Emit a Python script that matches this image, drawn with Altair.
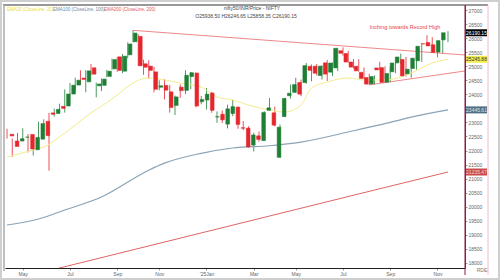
import json
import altair as alt
import pandas as pd

# ---------------- data (weekly candles, Apr-2024 .. Nov-2025) ----------------
weeks = list(range(85))
opens = [22579, 22339, 22336, 22475, 22570, 22027, 22404, 23038, 23338, 23319,
         23570, 23584, 24010, 24329, 24577, 24445, 24943, 24303, 24320, 24637,
         24906, 25333, 24823, 25406, 25872, 26061, 25085, 25002, 24798, 24252,
         24315, 24087, 23606, 24254, 24140, 24633, 24753, 23738, 23796, 24045,
         23195, 23290, 22940, 23319, 23543, 22809, 22796, 22194, 22522, 22353,
         23433, 23341, 21758, 23207, 23949, 24070, 24420, 24420, 24996, 25001,
         24669, 25120, 24788, 24939, 25551, 25450, 25149, 24999, 24782, 24596,
         24372, 24938, 24949, 24432, 24802, 25119, 25239, 24729, 24919, 25192,
         25800, 25843, 25762, 25503, 25938]
highs = [22775, 22427, 22625, 22794, 22588, 22502, 23026, 23111, 23338, 23490,
         23667, 24174, 24401, 24592, 24854, 24861, 25078, 24419, 24563, 24867,
         25269, 25333, 25433, 25849, 26277, 26134, 25234, 25212, 24978, 24498,
         24537, 24336, 23956, 24354, 24857, 24792, 24781, 23939, 24226, 24089,
         23391, 23426, 23633, 23807, 23568, 23049, 22857, 22633, 22676, 23403,
         23869, 23565, 22923, 23872, 24347, 24590, 24526, 25116, 25063, 25079,
         25029, 25223, 25136, 25654, 25669, 25548, 25255, 25247, 24956, 24734,
         24674, 25154, 25000, 24980, 25139, 25448, 25331, 24904, 25330, 25781,
         26104, 26033, 25803, 26010, 26247]
lows = [22427, 21777, 22306, 22348, 21932, 21821, 22377, 22418, 21281, 23207,
        23350, 23350, 23992, 24141, 24362, 24074, 24686, 23893, 24116, 24607,
        24874, 24801, 24753, 25286, 25847, 25014, 24695, 24567, 24073, 24140,
        23816, 23350, 23263, 23873, 24008, 24180, 23537, 23647, 23460, 23344,
        22987, 22981, 22787, 23222, 22774, 22725, 22105, 21965, 22314, 22353,
        23412, 22858, 21744, 23207, 23847, 24055, 23936, 24378, 24462, 24670,
        24527, 24473, 24647, 24824, 25378, 25129, 24918, 24807, 24535, 24337,
        24345, 24859, 24404, 24432, 24751, 25077, 24629, 24588, 24880, 25152,
        25718, 25718, 25318, 25449, 25858]
closes = [22519, 22147, 22420, 22476, 22055, 22466, 22957, 22531, 23290, 23465,
          23501, 24010, 24324, 24502, 24531, 24834, 24718, 24367, 24541, 24823,
          25236, 24852, 25356, 25791, 26179, 25015, 24964, 24854, 24181, 24304,
          24148, 23532, 23907, 24131, 24677, 24768, 23587, 23813, 24004, 23432,
          23203, 23092, 23482, 23560, 22930, 22796, 22125, 22553, 22397, 23350,
          23519, 22904, 22829, 23852, 24039, 24347, 24008, 25020, 24853, 24751,
          25003, 24719, 25112, 25637, 25461, 25150, 24968, 24837, 24565, 24363,
          24631, 24870, 24427, 24741, 25114, 25327, 24655, 24894, 25285, 25710,
          25795, 25722, 25492, 25910, 26190.15]

# moving averages (week index, value)
ema20_i = [0, 5, 7, 11, 16, 20, 21, 24, 26, 27, 30, 34, 37, 40, 43, 46, 50, 53,
           56, 58, 61, 65, 68, 72, 77, 81, 84]
ema20_v = [21769, 22018, 22125, 22623, 23335, 23833, 23975, 24402, 24560, 24580,
           24509, 24367, 24260, 23904, 23797, 23619, 23441, 23370, 23619, 24224,
           24438, 24580, 24509, 24509, 24758, 25114, 25245.88]
ema100_i = [0, 6, 11, 18, 27, 30, 37, 43, 50, 56, 65, 71, 77, 84]
ema100_v = [19349, 19562, 19883, 20345, 21300, 21550, 21900, 22090, 22170, 22300,
            22660, 22910, 23190, 23445.61]
ema200_i = [0, 10, 20, 30, 40, 50, 60, 70, 84]
ema200_v = [17356, 17819, 18281, 18744, 19206, 19669, 20132, 20594, 21235.47]

# trendlines
trend_id = ["upper", "upper", "lower", "lower"]
trend_i = [24, 87.2, 69, 87.2]
trend_v = [26277, 25400, 24337, 24830]

# axis labels
tick_idx = [3, 12, 21, 29, 38, 47, 55, 64, 73, 82]
tick_lab = ["May", "Jul", "Sep", "Nov", "'25Jan", "Mar", "May", "Jul", "Sep", "Nov"]
y_ticks = list(range(18000, 27001, 500))

# right-axis value boxes
box_series = ["price", "ema20", "ema100", "ema200"]
box_vals = [26190.15, 25245.88, 23445.61, 21235.47]
box_text = ["26190.15", "25245.88", "23445.61", "21235.47"]

legend_text = ["EMA20 (CloseLine, 20)", "EMA100 (CloseLine, 100)", "EMA200 (CloseLine, 200)"]
title_lines = ["nifty50/INR/Price - NIFTY", "O25938.50 H26246.65 L25858.35 C26190.15"]
note_text = ["Inching towards Record High"]
note_i = [75.8]
note_v = [26395]
corner_text = ["RDE"]

FONT = "Liberation Sans"

df = pd.DataFrame({"i": weeks, "o": opens, "h": highs, "l": lows, "c": closes})
df["dir"] = ["up" if c >= o else "down" for o, c in zip(opens, closes)]

xs = alt.Scale(domain=[-0.381, 87.24], nice=False, zero=False)
ys = alt.Scale(domain=[17820, 27178], nice=False, zero=False)
cs = alt.Scale(domain=["up", "down"], range=["#1f7f35", "#e5262d"])

label_expr = f"{json.dumps(tick_lab)}[indexof({json.dumps(tick_idx)}, datum.value)]"
xaxis = alt.Axis(values=tick_idx, labelExpr=label_expr, title=None, grid=False,
                 domainColor="#222", domainWidth=1, tickColor="#999", tickSize=2,
                 labelFontSize=5, labelColor="#666", labelPadding=1, labelFont=FONT)
yaxis = alt.Axis(orient="right", values=y_ticks, format="d", title=None, grid=False,
                 domainColor="#8b1d44", domainWidth=1, tickColor="#999", tickSize=2,
                 labelFontSize=5, labelColor="#666", labelPadding=1, labelFont=FONT)

wick = alt.Chart(df).mark_rule(strokeWidth=0.8, clip=True).encode(
    x=alt.X("i:Q", scale=xs, axis=xaxis),
    y=alt.Y("l:Q", scale=ys, axis=yaxis),
    y2="h:Q",
    color=alt.Color("dir:N", scale=cs, legend=None),
)
body = alt.Chart(df).mark_bar(size=3.6, clip=True, strokeWidth=0.6).encode(
    x=alt.X("i:Q", scale=xs, axis=None),
    y=alt.Y("o:Q", scale=ys, axis=None),
    y2="c:Q",
    color=alt.Color("dir:N", scale=cs, legend=None),
    stroke=alt.Color("dir:N", scale=cs, legend=None),
)


def ema_layer(ii, vv, color, width=1.0):
    d = pd.DataFrame({"i": ii, "v": vv})
    return alt.Chart(d).mark_line(color=color, strokeWidth=width, clip=True,
                                  interpolate="monotone").encode(
        x=alt.X("i:Q", scale=xs, axis=None), y=alt.Y("v:Q", scale=ys, axis=None))


e20 = ema_layer(ema20_i, ema20_v, "#f4ec8c")
e100 = ema_layer(ema100_i, ema100_v, "#8aa3b5", 1.2)
e200 = ema_layer(ema200_i, ema200_v, "#e06565")

tdf = pd.DataFrame({"id": trend_id, "i": trend_i, "v": trend_v})
trend = alt.Chart(tdf).mark_line(color="#e8686b", strokeWidth=0.8, clip=True).encode(
    x=alt.X("i:Q", scale=xs, axis=None), y=alt.Y("v:Q", scale=ys, axis=None), detail="id:N")

ndf = pd.DataFrame({"i": note_i, "v": note_v, "t": note_text})
note = alt.Chart(ndf).mark_text(color="#e8454a", fontSize=5.5, font=FONT).encode(
    x=alt.X("i:Q", scale=xs, axis=None), y=alt.Y("v:Q", scale=ys, axis=None), text="t:N")

bdf = pd.DataFrame({"s": box_series, "v": box_vals, "t": box_text})
fill_scale = alt.Scale(domain=box_series, range=["#000000", "#f2ee52", "#4f6f84", "#c94a4a"])
txt_scale = alt.Scale(domain=box_series, range=["#ffffff", "#333333", "#dde6ee", "#f3d6d6"])
boxes = alt.Chart(bdf).mark_tick(size=21, thickness=7, opacity=1).encode(
    x=alt.value(471.5), y=alt.Y("v:Q", scale=ys, axis=None),
    color=alt.Color("s:N", scale=fill_scale, legend=None))
box_lbl = alt.Chart(bdf).mark_text(fontSize=5, font=FONT, align="center", baseline="middle").encode(
    x=alt.value(471.5), y=alt.Y("v:Q", scale=ys, axis=None), text="t:N",
    color=alt.Color("s:N", scale=txt_scale, legend=None))

# fixed-position texts: legend row and title lines (positions are layout only)
ldf = pd.DataFrame({"t": legend_text, "px": [2, 48, 99],
                    "s": ["ema20", "ema100", "ema200"]})
leg_c = alt.Scale(domain=["ema20", "ema100", "ema200"], range=["#e6dc3c", "#6c8aa2", "#e0585c"])
legend = alt.Chart(ldf).mark_text(fontSize=4.5, font=FONT, align="left", baseline="middle").encode(
    x=alt.X("px:Q", scale=None, axis=None), y=alt.value(5), text="t:N",
    color=alt.Color("s:N", scale=leg_c, legend=None))

tdf2 = pd.DataFrame({"t": title_lines, "px": [247, 241], "py": [3, 11]})
titles = alt.Chart(tdf2).mark_text(fontSize=5, font=FONT, color="#444", align="center",
                                   baseline="middle").encode(
    x=alt.X("px:Q", scale=None, axis=None), y=alt.Y("py:Q", scale=None, axis=None), text="t:N")

cdf = pd.DataFrame({"t": corner_text, "px": [477], "py": [265]})
corner = alt.Chart(cdf).mark_text(fontSize=5, font=FONT, color="#777").encode(
    x=alt.X("px:Q", scale=None, axis=None), y=alt.Y("py:Q", scale=None, axis=None), text="t:N")

one = pd.DataFrame({"a": [0]})
frame_top = alt.Chart(one).mark_rule(color="#333", strokeWidth=1).encode(
    x=alt.value(-2), x2=alt.value(483), y=alt.value(0))
frame_left = alt.Chart(one).mark_rule(color="#aaa", strokeWidth=1.5).encode(
    x=alt.value(-1), y=alt.value(0), y2=alt.value(266))
axis_r = alt.Chart(one).mark_rule(color="#8b1d44", strokeWidth=1).encode(
    x=alt.value(460), y=alt.value(0), y2=alt.value(270))
pink_r = alt.Chart(one).mark_rule(color="#f2bccb", strokeWidth=1).encode(
    x=alt.value(483), y=alt.value(0), y2=alt.value(270))
outer = alt.Chart(one).mark_rect(
    filled=False, stroke="#cfcfcf", strokeWidth=2).encode(
    x=alt.value(-4), x2=alt.value(494), y=alt.value(-4), y2=alt.value(274))

chart = alt.layer(
    wick, outer, e200, e100, e20, trend, body, frame_top, frame_left, axis_r, pink_r,
    boxes, box_lbl, note, legend, titles, corner
).resolve_scale(color="independent", stroke="independent",
                x="independent", y="independent").properties(
    width=460, height=263,
    autosize=alt.AutoSizeParams(type="none"),
    padding={"left": 5, "top": 5, "right": 35, "bottom": 12},
    background="white",
).configure_view(stroke=None)

chart.save("out.html", embed_options={"renderer": "svg", "actions": False})
